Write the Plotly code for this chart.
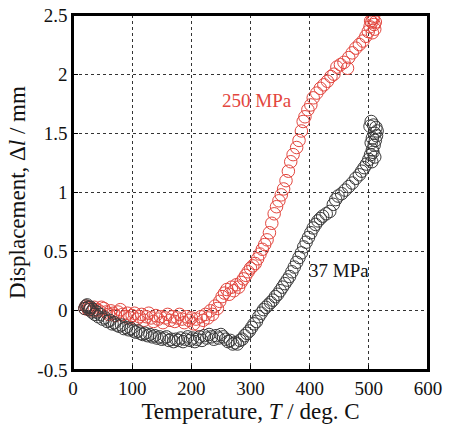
import plotly.graph_objects as go

# 250 MPa series (temperature in deg C, displacement in mm)
t_250 = [20, 22, 24, 26, 28, 30, 33, 36, 40, 44, 48, 52, 56, 60, 64, 68, 72, 76, 80, 84,
         88, 92, 96, 100, 104, 108, 112, 116, 120, 124, 128, 132, 136, 140, 144, 148, 152, 156, 160, 164,
         168, 172, 176, 180, 184, 188, 192, 196, 200, 204, 208, 212, 216, 220, 224, 228, 232, 236, 240, 244,
         248, 252, 256, 260, 264, 268, 272, 276, 280, 284, 288, 292, 296, 300, 304, 308, 312, 316, 320, 324,
         328, 332, 336, 340, 344, 348, 352, 356, 360, 364, 368, 372, 378, 382, 386, 389, 392, 397, 402, 406,
         412, 418, 424, 430, 436, 441, 446, 452, 458, 464, 466, 472, 478, 484, 490, 495, 499, 502, 505, 507,
         509, 510, 506, 503, 508, 511]
d_250 = [0.02, 0.04, 0.03, 0.01, 0.03, 0.02, 0.00, 0.03, 0.01, 0.00, 0.03, 0.02, -0.01, -0.03, 0.00, -0.02, -0.04, -0.01, 0.01, -0.03,
         -0.05, -0.02, -0.06, -0.04, -0.02, -0.07, -0.05, -0.03, -0.08, -0.05, -0.02, -0.06, -0.09, -0.04, -0.07, -0.05, -0.10, -0.06, -0.03, -0.08,
         -0.05, -0.09, -0.06, -0.03, -0.07, -0.10, -0.05, -0.08, -0.06, -0.11, -0.07, -0.12, -0.05, -0.08, -0.03, -0.06, 0.00, -0.03, 0.04, 0.02,
         0.08, 0.12, 0.15, 0.18, 0.14, 0.20, 0.17, 0.22, 0.20, 0.24, 0.27, 0.30, 0.33, 0.36, 0.38, 0.40, 0.44, 0.48, 0.52, 0.56,
         0.60, 0.66, 0.74, 0.82, 0.88, 0.93, 0.98, 1.03, 1.10, 1.18, 1.26, 1.32, 1.38, 1.44, 1.52, 1.60, 1.64, 1.70, 1.74, 1.80,
         1.84, 1.88, 1.91, 1.94, 1.98, 2.00, 2.06, 2.08, 2.10, 2.05, 2.14, 2.18, 2.22, 2.25, 2.28, 2.32, 2.36, 2.40, 2.44, 2.47,
         2.42, 2.38, 2.35, 2.45, 2.49, 2.44]

# 37 MPa series
t_37 = [20, 22, 24, 26, 28, 30, 32, 34, 37, 40, 43, 46, 50, 54, 58, 62, 66, 70, 74, 78,
        82, 86, 90, 94, 98, 102, 106, 110, 114, 118, 122, 126, 130, 134, 138, 142, 146, 150, 154, 158,
        162, 166, 170, 174, 178, 182, 186, 190, 194, 198, 202, 206, 210, 214, 218, 222, 226, 230, 234, 238,
        242, 246, 250, 254, 258, 262, 266, 270, 274, 278, 282, 286, 290, 294, 298, 302, 306, 310, 314, 318,
        322, 326, 330, 334, 338, 342, 346, 350, 354, 358, 362, 366, 370, 374, 378, 382, 386, 390, 394, 398,
        402, 406, 410, 414, 418, 422, 428, 434, 440, 444, 448, 454, 460, 466, 472, 478, 484, 488, 492, 496,
        500, 503, 506, 509, 511, 513, 514, 512, 508, 504, 502, 510, 506, 504, 507, 510, 505]
d_37 = [0.02, 0.04, 0.05, 0.03, 0.01, 0.03, -0.01, 0.01, -0.03, -0.01, -0.05, -0.03, -0.07, -0.06, -0.09, -0.08, -0.11, -0.10, -0.12, -0.13,
        -0.12, -0.15, -0.14, -0.16, -0.15, -0.17, -0.18, -0.17, -0.19, -0.20, -0.19, -0.21, -0.20, -0.22, -0.21, -0.23, -0.22, -0.24, -0.23, -0.22,
        -0.25, -0.24, -0.26, -0.24, -0.25, -0.23, -0.26, -0.24, -0.22, -0.25, -0.23, -0.26, -0.24, -0.22, -0.25, -0.21, -0.23, -0.20, -0.22, -0.24,
        -0.21, -0.23, -0.20, -0.22, -0.24, -0.26, -0.25, -0.28, -0.27, -0.28, -0.25, -0.24, -0.21, -0.19, -0.17, -0.14, -0.11, -0.09, -0.05, -0.02,
        0.01, 0.03, 0.05, 0.07, 0.09, 0.12, 0.14, 0.17, 0.20, 0.23, 0.26, 0.29, 0.33, 0.37, 0.41, 0.45, 0.49, 0.54, 0.58, 0.62,
        0.66, 0.70, 0.73, 0.76, 0.78, 0.80, 0.82, 0.84, 0.90, 0.94, 0.97, 0.99, 1.02, 1.05, 1.08, 1.12, 1.15, 1.18, 1.21, 1.24,
        1.28, 1.32, 1.36, 1.40, 1.44, 1.48, 1.52, 1.55, 1.57, 1.60, 1.56, 1.50, 1.46, 1.42, 1.34, 1.30, 1.26]

x_ticks = [0, 100, 200, 300, 400, 500, 600]
y_ticks = [-0.5, 0, 0.5, 1, 1.5, 2, 2.5]
y_tick_labels = ["-0.5", "0", "0.5", "1", "1.5", "2", "2.5"]

RED = "#e3463e"
BLACK = "#3a3a3a"
FONT = "Liberation Serif"

fig = go.Figure()
fig.add_trace(go.Scatter(x=t_250, y=d_250, mode="markers", name="250 MPa",
                         marker=dict(symbol="circle-open", size=12.5, color=RED, line=dict(width=1))))
fig.add_trace(go.Scatter(x=t_37, y=d_37, mode="markers", name="37 MPa",
                         marker=dict(symbol="circle-open", size=12.5, color=BLACK, line=dict(width=1))))

fig.add_annotation(x=311, y=1.775, text="250 MPa", showarrow=False,
                   font=dict(family=FONT, size=19, color=RED))
fig.add_annotation(x=450, y=0.34, text="37 MPa", showarrow=False,
                   font=dict(family=FONT, size=19, color="#111111"))

# frame around the plotting area
fig.add_shape(type="rect", xref="paper", yref="paper", x0=0, x1=1, y0=0, y1=1,
              line=dict(color="black", width=2), fillcolor="rgba(0,0,0,0)", layer="above")

axis_common = dict(showline=True, linecolor="black", linewidth=1.5, mirror=True,
                   showgrid=True, gridcolor="#333333", griddash="dot", gridwidth=1,
                   zeroline=False, ticks="inside", ticklen=5, tickcolor="black",
                   automargin=False, ticklabeloverflow="allow",
                   tickfont=dict(family=FONT, size=19, color="#111111"))

fig.update_xaxes(range=[0, 600], tickvals=x_ticks, ticktext=[str(v) for v in x_ticks],
                 title=dict(text="Temperature, <i>T</i> / deg. C", font=dict(family=FONT, size=23, color="#111111"),
                            standoff=4),
                 **axis_common)
fig.update_yaxes(range=[-0.5, 2.5], tickvals=y_ticks, ticktext=y_tick_labels,
                 title=dict(text="Displacement, Δ<i>l</i> / mm", font=dict(family=FONT, size=23, color="#111111"),
                            standoff=5),
                 **axis_common)

fig.update_layout(width=449, height=432, margin=dict(l=73, r=21, t=15, b=62),
                  paper_bgcolor="white", plot_bgcolor="white", showlegend=False)

# remove the browser's default page margin so the figure sits at the window origin
fig.write_html("out.html", config={"displayModeBar": False},
               post_script="document.body.style.margin='0';document.body.style.overflow='hidden';")
